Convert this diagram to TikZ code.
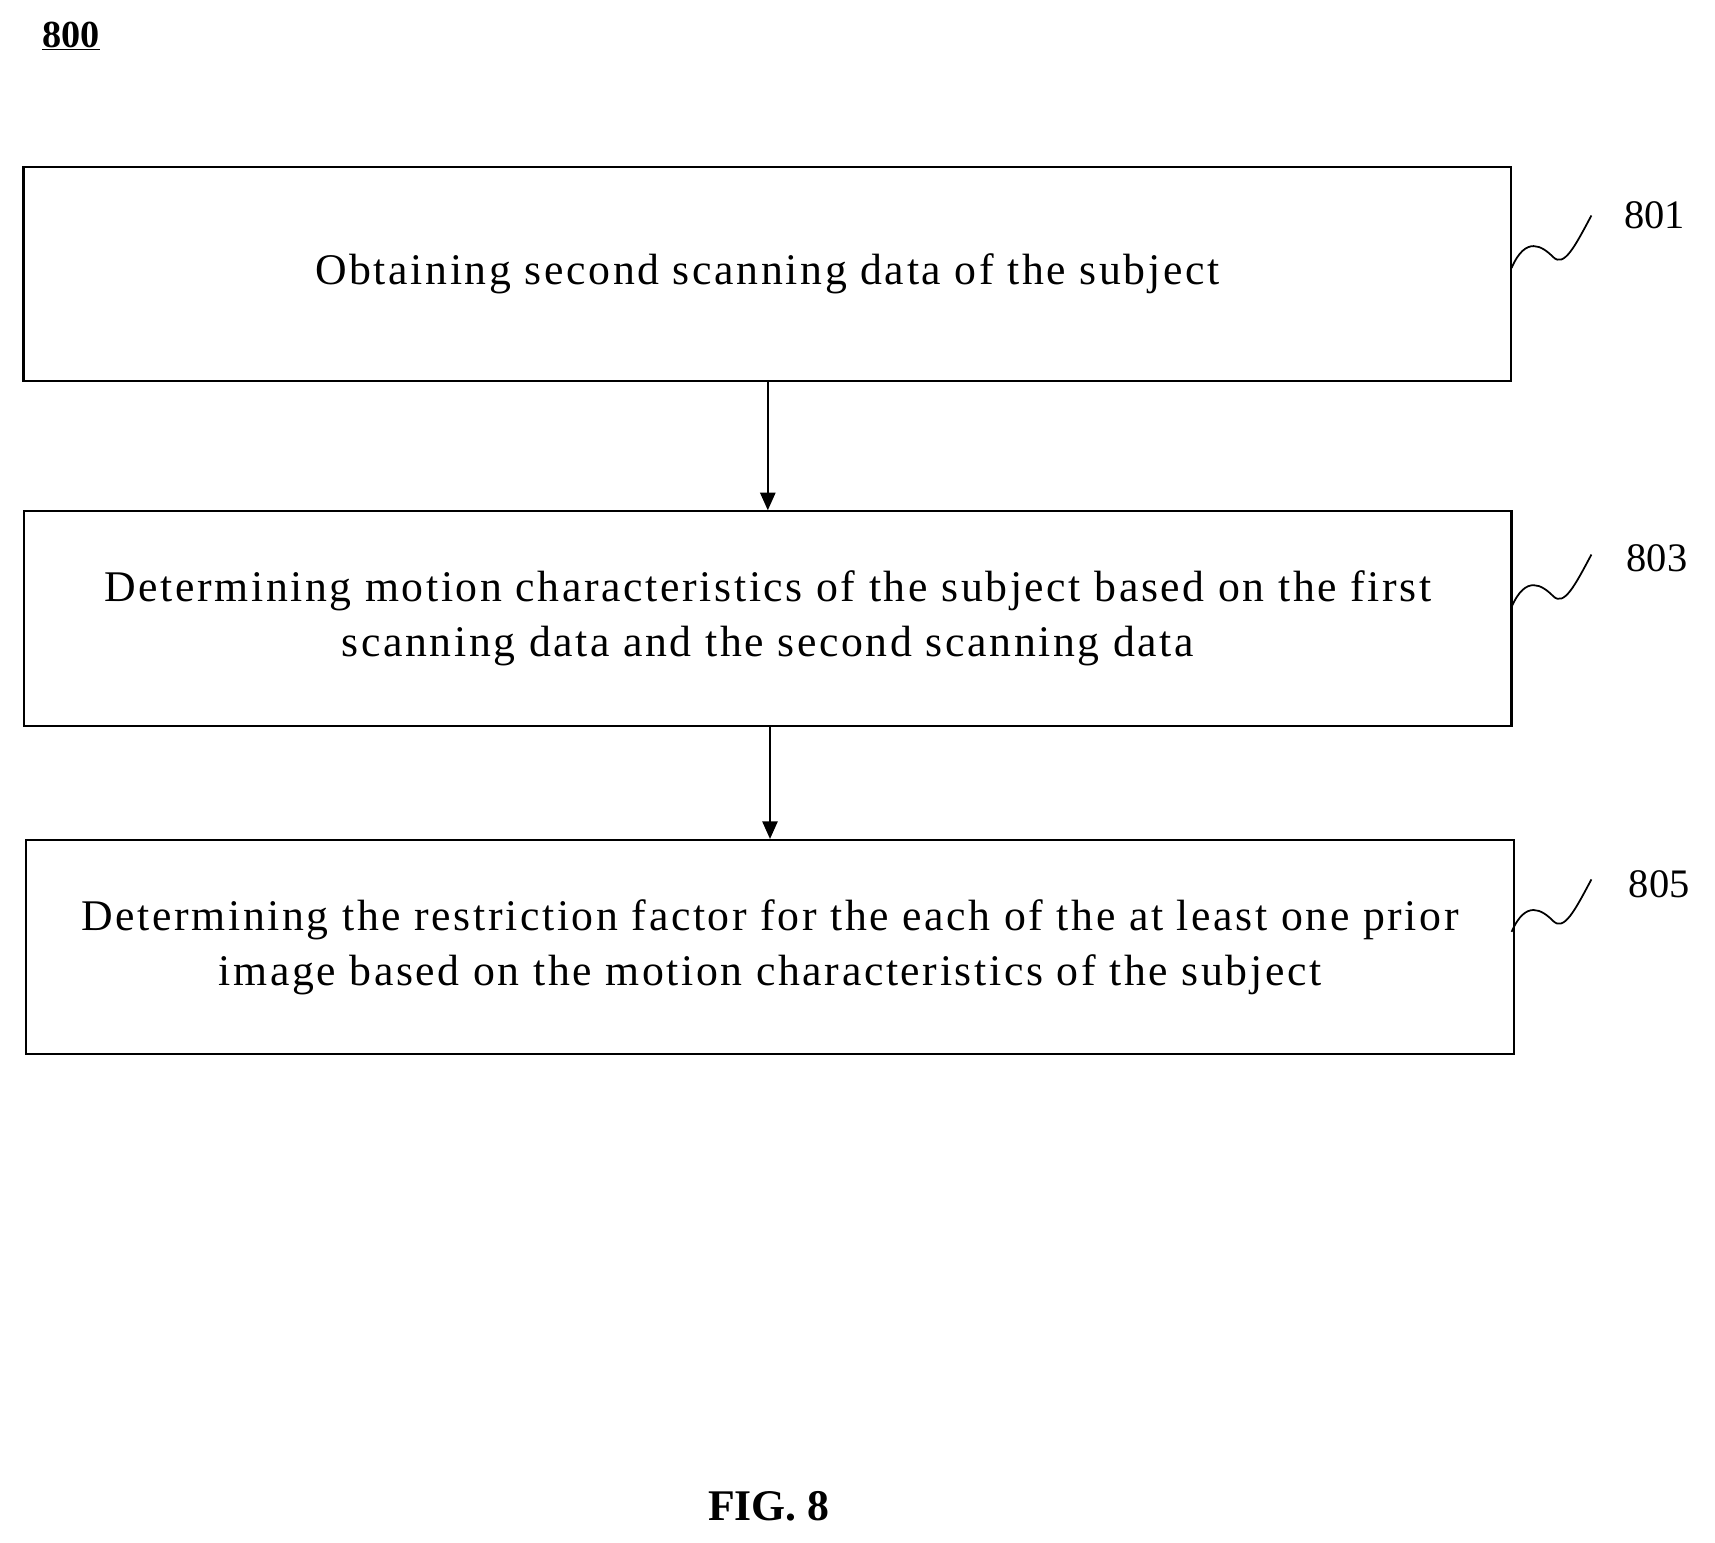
\documentclass[tikz,border=0pt]{standalone}
\usepackage{fontspec}
\setmainfont{Liberation Serif}
\newfontfamily\boxfont[LetterSpace=6]{Liberation Serif}
\usetikzlibrary{arrows.meta}
\begin{document}
\begin{tikzpicture}[x=1pt,y=-1pt,
  box/.style={draw,line width=2pt,minimum width=1360pt,minimum height=196pt,align=center,font=\boxfont\fontsize{40}{50}\selectfont,inner sep=0pt},
  lab/.style={font=\fontsize{37}{40}\selectfont},
  arr/.style={-{Triangle[length=16pt,width=14pt]},line width=1.3pt},
  sq/.style={line width=1.6pt}]
\useasboundingbox (0,0) rectangle (1568,1410);
\node (t) at (65,33) {\fontsize{35}{38}\selectfont\bfseries\underline{800}};
\node[box] (b1) at (701.5,250.5) {Obtaining second scanning data of the subject};
\node[box] (b2) at (702,565.5) {Determining motion characteristics of the subject based on the first\\scanning data and the second scanning data};
\node[box] (b3) at (704,866) {Determining the restriction factor for the each of the at least one prior\\image based on the motion characteristics of the subject};
\draw[arr] (b1.south -| 702,0) -- (b2.north -| 702,0);
\draw[arr] (b2.south -| 704,0) -- (b3.north -| 704,0);
\node[lab] (l1) at (1513,197) {801};
\node[lab] (l2) at (1515,510) {803};
\node[lab] (l3) at (1517,808) {805};
\foreach \y [count=\i] in {245,555,852}{
  \coordinate (s\i) at (1382,\y);
  \draw[sq] (s\i) .. controls (1395,\y-30) and (1410,\y-20) .. (1420,\y-10) .. controls (1430,\y) and (1440,\y-20) .. (1455,\y-48);
}
\node (fig) at (703,1377) {\fontsize{40}{44}\selectfont\bfseries FIG. 8};
\end{tikzpicture}
\end{document}
